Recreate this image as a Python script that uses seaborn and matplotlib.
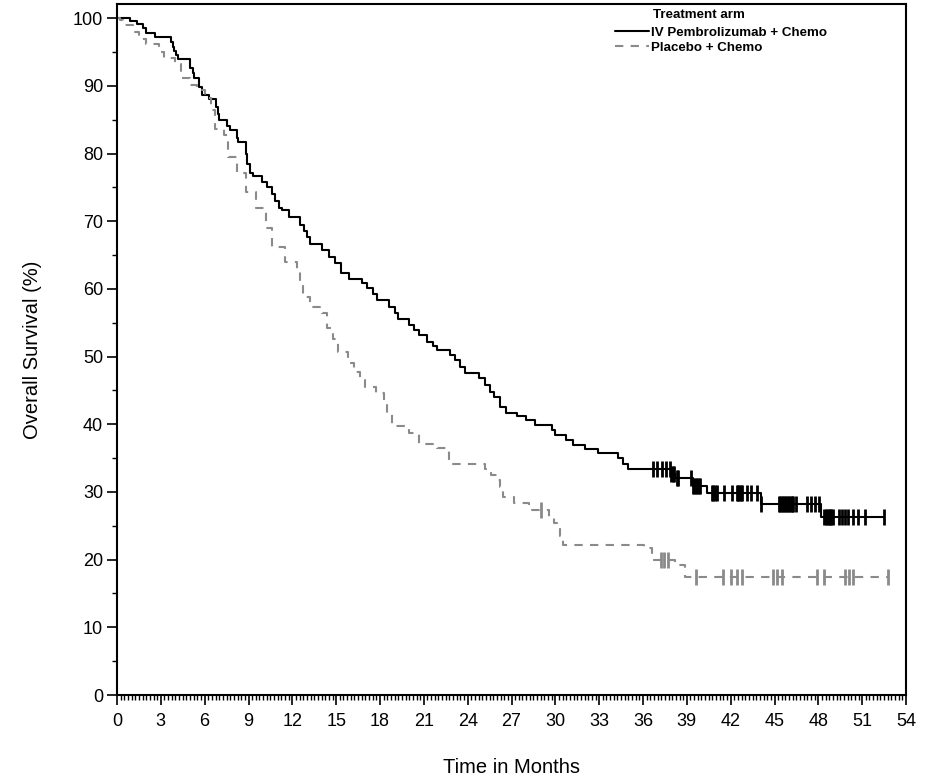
import numpy as np
import pandas as pd
import matplotlib
matplotlib.use("Agg")
from matplotlib import pyplot as plt
from matplotlib.lines import Line2D
from matplotlib.ticker import MultipleLocator
import seaborn as sns

# Kaplan-Meier steps: (time in months, survival % after the step)
pembro_t = [0, 0.9, 1.35, 1.8, 2.0, 2.6, 3.7, 3.8, 3.9, 4.05, 4.2, 5.0, 5.2, 5.3, 5.6, 5.8,
            6.3, 6.8, 6.9, 7.0, 7.5, 7.7, 8.2, 8.3, 8.8, 8.9, 9.1, 9.3, 9.9, 10.3, 10.6, 10.8,
            11.1, 11.3, 11.8, 12.5, 12.8, 13.0, 13.2, 14.0, 14.5, 14.9, 15.3, 15.9, 16.8,
            17.1, 17.5, 17.8, 18.6, 19.0, 19.2, 20.0, 20.3, 20.7, 21.2, 21.6, 21.9, 22.8,
            23.1, 23.5, 23.8, 24.8, 25.2, 25.5, 25.8, 26.2, 26.6, 27.4, 28.0, 28.6, 29.8,
            30.0, 30.7, 31.2, 32.0, 32.9, 34.3, 34.6, 35.0, 37.9, 38.2, 39.4, 40.4, 44.1,
            48.2, 52.5]
pembro_s = [100, 99.6, 99.1, 98.5, 97.8, 97.2, 96.5, 95.8, 95.2, 94.6, 94.0, 92.6, 91.9, 91.1,
            89.8, 88.6, 88.0, 86.9, 85.8, 85.0, 84.0, 83.5, 82.3, 81.7, 80.0, 78.5, 77.2, 76.7,
            75.8, 75.0, 74.0, 73.0, 72.0, 71.6, 70.6, 69.5, 68.5, 67.7, 66.6, 65.7, 64.7, 63.8,
            62.3, 61.5, 60.9, 60.1, 59.2, 58.3, 57.3, 56.5, 55.5, 54.6, 53.9, 53.2, 52.1, 51.5,
            51.0, 50.2, 49.5, 48.5, 47.6, 46.8, 45.8, 44.8, 44.0, 42.5, 41.7, 41.2, 40.6, 39.9,
            39.2, 38.4, 37.7, 36.9, 36.3, 35.7, 35.0, 34.2, 33.4, 32.7, 32.0, 30.9, 29.8, 28.2,
            26.3, 26.3]
pembro_cens = [36.7, 36.98, 37.28, 37.55, 37.85, 37.95, 38.05, 38.15, 38.3, 38.42, 39.3, 39.4,
               39.5, 39.6, 39.7, 39.8, 39.9, 40.7, 40.8, 40.9, 41.05, 41.55, 42.07, 42.4, 42.5,
               42.6, 42.7, 42.8, 43.1, 43.4, 43.8, 44.1, 45.3, 45.4, 45.5, 45.6, 45.7, 45.8,
               45.9, 46.0, 46.1, 46.2, 46.3, 46.5, 47.2, 47.5, 47.8, 48.05, 48.4, 48.5, 48.6,
               48.7, 48.8, 48.9, 49.0, 49.4, 49.6, 49.8, 50.05, 50.35, 50.7, 51.2, 52.5]

placebo_t = [0, 0.2, 0.4, 1.1, 1.5, 2.0, 2.9, 3.2, 4.0, 4.4, 5.0, 5.5, 6.0, 6.4, 6.7, 7.3, 7.6,
             8.2, 8.8, 9.5, 10.2, 10.6, 11.5, 12.3, 12.5, 12.7, 13.2, 14.0, 14.4, 14.8, 15.1,
             15.8, 16.2, 16.6, 17.0, 17.7, 18.3, 18.5, 18.8, 20.0, 20.7, 21.9, 22.7, 25.2, 25.6,
             26.0, 26.2, 26.4, 27.2, 28.2, 28.4, 29.6, 29.9, 30.1, 30.3, 30.5, 36.1, 36.6, 38.2,
             38.9, 52.8]
placebo_s = [100, 99.7, 99.0, 98.0, 97.0, 96.2, 95.0, 94.1, 93.3, 91.2, 90.2, 89.4, 88.2, 86.4,
             83.7, 82.7, 79.5, 77.1, 74.3, 71.9, 69.0, 66.2, 64.0, 62.5, 61.0, 58.8, 57.3, 56.4,
             54.2, 52.6, 50.7, 49.0, 47.7, 46.5, 45.5, 44.6, 43.6, 41.5, 39.7, 38.7, 37.1, 36.5,
             34.2, 33.4, 32.5, 31.8, 30.7, 29.2, 28.3, 27.8, 27.3, 26.3, 25.4, 24.7, 23.5, 22.2,
             21.7, 19.9, 19.2, 17.4, 17.4]
placebo_cens = [29.0, 37.2, 37.45, 37.7, 39.6, 41.5, 42.0, 42.4, 42.8, 44.9, 45.2, 45.5, 47.9,
                48.4, 49.8, 50.1, 50.4, 52.8]

arm_labels = ["IV Pembrolizumab + Chemo", "Placebo + Chemo"]

sns.set_theme(style="ticks")
plt.rcParams['font.family'] = ['Liberation Sans', 'DejaVu Sans']
plt.rcParams.update({"text.color": "black", "axes.labelcolor": "black",
                     "xtick.color": "black", "ytick.color": "black"})

fig = plt.figure(figsize=(9.3, 7.82), dpi=100)
ax = fig.add_axes([117/930, 87/782, (906-117)/930, (695-4)/782])


def surv_at(times, steps_t, steps_s):
    idx = np.searchsorted(steps_t, times, side="right") - 1
    return np.asarray(steps_s)[idx]


grey = "#8a8a8a"
dash = (0, (4, 3.5))

curve_pem = pd.DataFrame({"t": pembro_t, "s": pembro_s})
curve_pla = pd.DataFrame({"t": placebo_t, "s": placebo_s})

sns.lineplot(data=curve_pem, x="t", y="s", drawstyle="steps-post", estimator=None,
             color="black", linewidth=1.5, ax=ax)
sns.lineplot(data=curve_pla, x="t", y="s", drawstyle="steps-post", estimator=None,
             color=grey, linewidth=1.5, linestyle=dash, ax=ax)

cens_pem = pd.DataFrame({"t": pembro_cens, "s": surv_at(pembro_cens, pembro_t, pembro_s)})
cens_pla = pd.DataFrame({"t": placebo_cens, "s": surv_at(placebo_cens, placebo_t, placebo_s)})
sns.scatterplot(data=cens_pem, x="t", y="s", marker="|", s=120, linewidth=2,
                color="black", ax=ax, zorder=3)
sns.scatterplot(data=cens_pla, x="t", y="s", marker="|", s=120, linewidth=2,
                color=grey, ax=ax, zorder=3)

ax.set_xlim(0, 54)
ax.set_ylim(0, 102.1)
ax.xaxis.set_major_locator(MultipleLocator(3))
ax.xaxis.set_minor_locator(MultipleLocator(0.25))
ax.yaxis.set_major_locator(MultipleLocator(10))
ax.yaxis.set_minor_locator(MultipleLocator(5))
ax.set_yticks(np.arange(0, 101, 10))
ax.tick_params(axis="both", which="major", length=7, width=1.2, labelsize=13, colors="black")
ax.tick_params(axis="x", which="major", pad=6)
ax.tick_params(axis="y", which="major", pad=3)
ax.tick_params(axis="both", which="minor", length=3.5, width=1.0)
for sp in ax.spines.values():
    sp.set_linewidth(1.5)
    sp.set_color("black")

ax.set_xlabel("Time in Months", fontsize=14.5, labelpad=20)
ax.set_ylabel("Overall Survival (%)", fontsize=14.5, labelpad=22)

# legend
handles = [Line2D([], [], color="black", linewidth=1.5),
           Line2D([], [], color=grey, linewidth=1.5, linestyle=dash)]
leg = ax.legend(handles, arm_labels, loc="upper left", bbox_to_anchor=(0.624, 0.975),
                frameon=False, handlelength=2.6, handletextpad=0.15, labelspacing=0.2,
                borderaxespad=0, prop={"weight": "bold", "size": 9.6})
ax.text(0.679, 0.975, "Treatment arm", transform=ax.transAxes, ha="left", va="bottom",
        fontweight="bold", fontsize=9.6)

fig.savefig("out.png", dpi=100)
